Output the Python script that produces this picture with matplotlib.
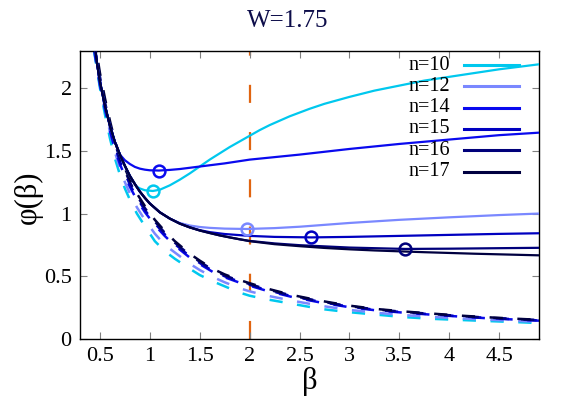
import matplotlib
matplotlib.use("Agg")
import matplotlib.pyplot as plt
from matplotlib.lines import Line2D

# 색 / 범례
n_labels = ["n=10", "n=12", "n=14", "n=15", "n=16", "n=17"]
colors = ["#00c8ee", "#7a88ff", "#0a0aee", "#0000c0", "#00007a", "#000040"]

# 공통으로 내려오는 실선 (n=17 곡선)
x_common = [0.44, 0.47, 0.5, 0.55, 0.6, 0.65, 0.7, 0.75, 0.8, 0.85, 0.9, 0.95, 1.0,
            1.1, 1.2, 1.3, 1.4, 1.5, 1.6, 1.7, 1.8, 1.9, 2.0, 2.25, 2.5, 2.75,
            3.0, 3.25, 3.5, 3.75, 4.0, 4.25, 4.5, 4.75, 4.9]
y_common = [2.40, 2.20, 2.05, 1.86, 1.70, 1.57, 1.47, 1.38, 1.30, 1.235, 1.175, 1.125, 1.08,
            1.01, 0.96, 0.92, 0.89, 0.865, 0.845, 0.826, 0.81, 0.795, 0.78, 0.756, 0.74, 0.726,
            0.715, 0.706, 0.699, 0.692, 0.686, 0.68, 0.675, 0.67, 0.667]

# 각 n 의 갈라지는 부분 (n=17 은 공통 곡선 그대로)
x_br10 = [0.86, 0.9, 0.95, 1.03, 1.1, 1.2, 1.3, 1.4, 1.5, 1.6, 1.7, 1.8, 1.9, 2.0,
          2.1, 2.2, 2.3, 2.4, 2.5, 2.6, 2.75, 3.0, 3.25, 3.5, 3.75, 4.0, 4.25, 4.5, 4.75, 4.9]
y_br10 = [1.22, 1.20, 1.186, 1.18, 1.19, 1.225, 1.27, 1.32, 1.375, 1.43, 1.48, 1.53, 1.575, 1.62,
          1.665, 1.705, 1.74, 1.775, 1.805, 1.835, 1.875, 1.93, 1.98, 2.02, 2.06, 2.09, 2.12, 2.15, 2.175, 2.19]
x_br12 = [1.3, 1.4, 1.5, 1.6, 1.75, 1.97, 2.25, 2.5, 3.0, 3.5, 4.0, 4.5, 4.9]
y_br12 = [0.925, 0.905, 0.893, 0.886, 0.88, 0.877, 0.884, 0.895, 0.925, 0.95, 0.97, 0.988, 1.0]
x_br14 = [0.7, 0.75, 0.8, 0.85, 0.9, 0.95, 1.0, 1.09, 1.2, 1.3, 1.5, 1.75, 2.0, 2.5,
          3.0, 3.5, 4.0, 4.5, 4.9]
y_br14 = [1.47, 1.425, 1.395, 1.372, 1.358, 1.35, 1.345, 1.343, 1.348, 1.355, 1.375, 1.40, 1.43, 1.47,
          1.515, 1.555, 1.59, 1.625, 1.645]
x_br15 = [1.5, 1.6, 1.75, 2.0, 2.25, 2.62, 3.0, 3.5, 4.0, 4.5, 4.9]
y_br15 = [0.868, 0.852, 0.837, 0.822, 0.814, 0.81, 0.814, 0.822, 0.83, 0.838, 0.843]
x_br16 = [2.0, 2.25, 2.5, 3.0, 3.56, 4.0, 4.5, 4.9]
y_br16 = [0.782, 0.762, 0.748, 0.729, 0.718, 0.72, 0.724, 0.727]
branches = [(x_br10, y_br10), (x_br12, y_br12), (x_br14, y_br14),
            (x_br15, y_br15), (x_br16, y_br16), ([], [])]

# 동그라미 표시 (최소점)
min_x = [1.03, 1.97, 1.09, 2.62, 3.56]
min_y = [1.18, 0.877, 1.343, 0.81, 0.718]

# 점선 곡선
x_dash = [0.44, 0.5, 0.55, 0.6, 0.65, 0.7, 0.75, 0.8, 0.87, 0.95, 1.05, 1.15, 1.25, 1.4, 1.5,
          1.63, 1.75, 1.9, 2.0, 2.16, 2.43, 2.71, 2.98, 3.26, 3.54, 3.82, 4.1, 4.39, 4.66, 4.9]
y_dash10 = [2.3, 2.0, 1.79, 1.6, 1.44, 1.31, 1.2, 1.11, 1.0, 0.9, 0.78, 0.70, 0.64, 0.56, 0.51,
            0.46, 0.42, 0.37, 0.345, 0.318, 0.28, 0.24, 0.215, 0.195, 0.175, 0.161, 0.152, 0.143, 0.135, 0.127]
y_dash12 = [2.34, 2.04, 1.84, 1.65, 1.49, 1.36, 1.25, 1.16, 1.05, 0.95, 0.84, 0.75, 0.69, 0.60, 0.55,
            0.495, 0.452, 0.405, 0.38, 0.348, 0.305, 0.265, 0.234, 0.21, 0.191, 0.176, 0.165, 0.154, 0.145, 0.137]
y_dash14 = [2.31, 2.02, 1.83, 1.66, 1.51, 1.394, 1.299, 1.213, 1.108, 1.012, 0.907, 0.821, 0.745, 0.649, 0.597,
            0.535, 0.492, 0.449, 0.425, 0.387, 0.334, 0.291, 0.256, 0.229, 0.21, 0.194, 0.179, 0.165, 0.155, 0.146]
y_dash15 = [2.35, 2.06, 1.86, 1.69, 1.53, 1.416, 1.319, 1.232, 1.125, 1.028, 0.922, 0.834, 0.757, 0.66, 0.606,
            0.543, 0.5, 0.456, 0.432, 0.393, 0.34, 0.296, 0.26, 0.233, 0.213, 0.197, 0.181, 0.168, 0.157, 0.148]
y_dash16 = [2.38, 2.09, 1.89, 1.71, 1.56, 1.438, 1.34, 1.251, 1.143, 1.044, 0.936, 0.847, 0.768, 0.67, 0.616,
            0.552, 0.507, 0.463, 0.438, 0.399, 0.345, 0.3, 0.264, 0.236, 0.217, 0.2, 0.184, 0.17, 0.16, 0.151]
y_dash17 = [2.42, 2.12, 1.92, 1.74, 1.58, 1.46, 1.36, 1.27, 1.16, 1.06, 0.95, 0.86, 0.78, 0.68, 0.625,
            0.56, 0.515, 0.47, 0.445, 0.405, 0.35, 0.305, 0.268, 0.24, 0.22, 0.203, 0.187, 0.173, 0.162, 0.153]
dashed = [y_dash10, y_dash12, y_dash14, y_dash15, y_dash16, y_dash17]

beta_c = 2.0
xticks = [0.5, 1, 1.5, 2, 2.5, 3, 3.5, 4, 4.5]
yticks = [0, 0.5, 1, 1.5, 2]


def main():
    plt.rcParams['font.family'] = ['Liberation Serif', 'DejaVu Serif']
    plt.rcParams['lines.scale_dashes'] = False

    fig = plt.figure(figsize=(5.61, 3.97), dpi=100)
    ax = fig.add_axes([80 / 561, 1 - 339 / 397, 459 / 561, 288.5 / 397])

    # 수직 점선
    ax.axvline(beta_c, color="#e06410", lw=1.6, dashes=(13, 21), zorder=1)

    # 점선
    for i, yd in enumerate(dashed):
        ax.plot(x_dash, yd, color=colors[i], lw=1.8, dashes=(9.5, 10.5), zorder=2)

    # 실선
    for i, (xb, yb) in enumerate(branches):
        if xb:
            xs = [x for x in x_common if x < xb[0]] + xb
            ys = [y for x, y in zip(x_common, y_common) if x < xb[0]] + yb
        else:
            xs, ys = x_common, y_common
        ax.plot(xs, ys, color=colors[i], lw=1.6, zorder=3)

    for i in range(len(min_x)):
        ax.plot(min_x[i], min_y[i], 'o', ms=8.5, mfc='none', mec=colors[i], mew=1.8, zorder=4)

    ax.set_xlim(0.3, 4.9)
    ax.set_ylim(0, 2.3)
    ax.set_xticks(xticks)
    ax.set_xticklabels([f"{t:g}" for t in xticks])
    ax.set_yticks(yticks)
    ax.set_yticklabels([f"{t:g}" for t in yticks])
    ax.tick_params(direction='in', top=True, right=True, length=5, width=0.8,
                   color="#808080", labelsize=16, pad=6)
    for s in ax.spines.values():
        s.set_linewidth(1.0)

    # 범례 (직접 그리기)
    for i, lab in enumerate(n_labels):
        yy = 1 - (65 + i * 21.3) / 397
        fig.text(450 / 561, yy, lab, ha='right', va='center', fontsize=14.5)
        fig.add_artist(Line2D([464 / 561, 519 / 561], [yy, yy], color=colors[i], lw=2.2))

    fig.text(288 / 561, 1 - 27 / 397, "W=1.75", ha='center', va='baseline',
             fontsize=18, color="#0d0d4a")
    fig.text(28 / 561, 1 - 197 / 397, "φ(β)", rotation=90, ha='center', va='center', fontsize=22)
    fig.text(310 / 561, 1 - 381 / 397, "β", ha='center', va='center', fontsize=22)

    fig.savefig("out.png", dpi=100)


if __name__ == "__main__":
    main()
